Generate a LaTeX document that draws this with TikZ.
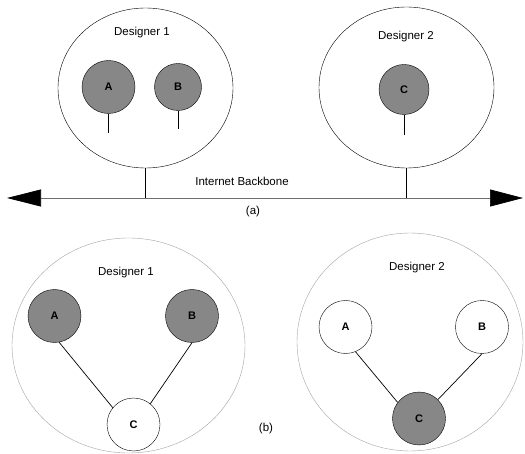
\documentclass[tikz,border=0pt]{standalone}
\usepackage{fontspec}
\setmainfont{Liberation Sans}
\usetikzlibrary{shapes.geometric,arrows.meta}

\definecolor{sitegray}{HTML}{878787}
\definecolor{rimgray}{HTML}{A3A3A3}
\definecolor{busgray}{HTML}{6E6E6E}

\tikzset{
	zone/.style={ellipse, draw, inner sep=0pt},
	softzone/.style={zone, draw=rimgray},
	site/.style={circle, draw, inner sep=0pt, minimum size=53pt, font=\bfseries\fontsize{11}{13}\selectfont},
	busysite/.style={site, fill=sitegray},
	caption/.style={font=\fontsize{11.5}{14}\selectfont},
	wire/.style={line width=0.7pt}
}

\begin{document}
\begin{tikzpicture}[x=1pt, y=-1pt]
	\useasboundingbox (0,0) rectangle (525,454);
	% (a): designers on the backbone
	\node[zone, minimum width=175pt, minimum height=160pt] (dA) at (145.5, 88) {};
	\node[zone, minimum width=175pt, minimum height=161pt] (dB) at (406.5, 87.5) {};
	\node[caption] (labA) at (142, 33) {Designer 1};
	\node[caption] (labB) at (406, 37) {Designer 2};
	\node[busysite] (topA) at (108.5, 87) {A};
	\node[busysite, minimum size=47pt] (topB) at (178, 87) {B};
	\node[busysite, minimum size=50pt] (topC) at (404, 89.5) {C};
	\coordinate (stubA) at (108.5, 133);
	\coordinate (stubB) at (178, 129);
	\coordinate (stubC) at (404, 135);
	\draw[wire] (topA.south) -- (stubA);
	\draw[wire] (topB.south) -- (stubB);
	\draw[wire] (topC.south) -- (stubC);
	\coordinate (busL) at (7, 198);
	\coordinate (busR) at (523, 198);
	\coordinate (tapA) at (145.5, 198);
	\coordinate (tapB) at (406.5, 198);
	\draw[wire, busgray, {Triangle[length=34pt, width=17pt, black]}-{Triangle[length=33pt, width=17pt, black]}] (busL) -- (busR);
	\draw[wire] (dA.south) -- (tapA);
	\draw[wire] (dB.south) -- (tapB);
	\node[caption] (bone) at (242, 181) {Internet Backbone};
	\node[caption] (capa) at (253, 212) {(a)};
	% (b): the two designers apart
	\node[softzone, minimum width=233pt, minimum height=215pt] (eA) at (128.5, 345.5) {};
	\node[softzone, minimum width=226pt, minimum height=218pt] (eB) at (410, 342) {};
	\node[caption] (labC) at (126, 273) {Designer 1};
	\node[caption] (labD) at (417, 268) {Designer 2};
	\node[busysite] (lowA) at (54.5, 316) {A};
	\node[busysite] (lowB) at (192, 316) {B};
	\node[site, fill=white] (lowC) at (133.5, 424.5) {C};
	\node[site] (farA) at (345.5, 327) {A};
	\node[site] (farB) at (482, 327) {B};
	\node[busysite] (farC) at (419, 418.5) {C};
	\draw[wire] (lowA.-80) -- (lowC.141);
	\draw[wire] (lowB.south) -- (lowC.51);
	\draw[wire] (farA.-68) -- (farC.143);
	\draw[wire] (farB.south) -- (farC.45);
	\node[caption] (capb) at (266, 429) {(b)};
\end{tikzpicture}
\end{document}
